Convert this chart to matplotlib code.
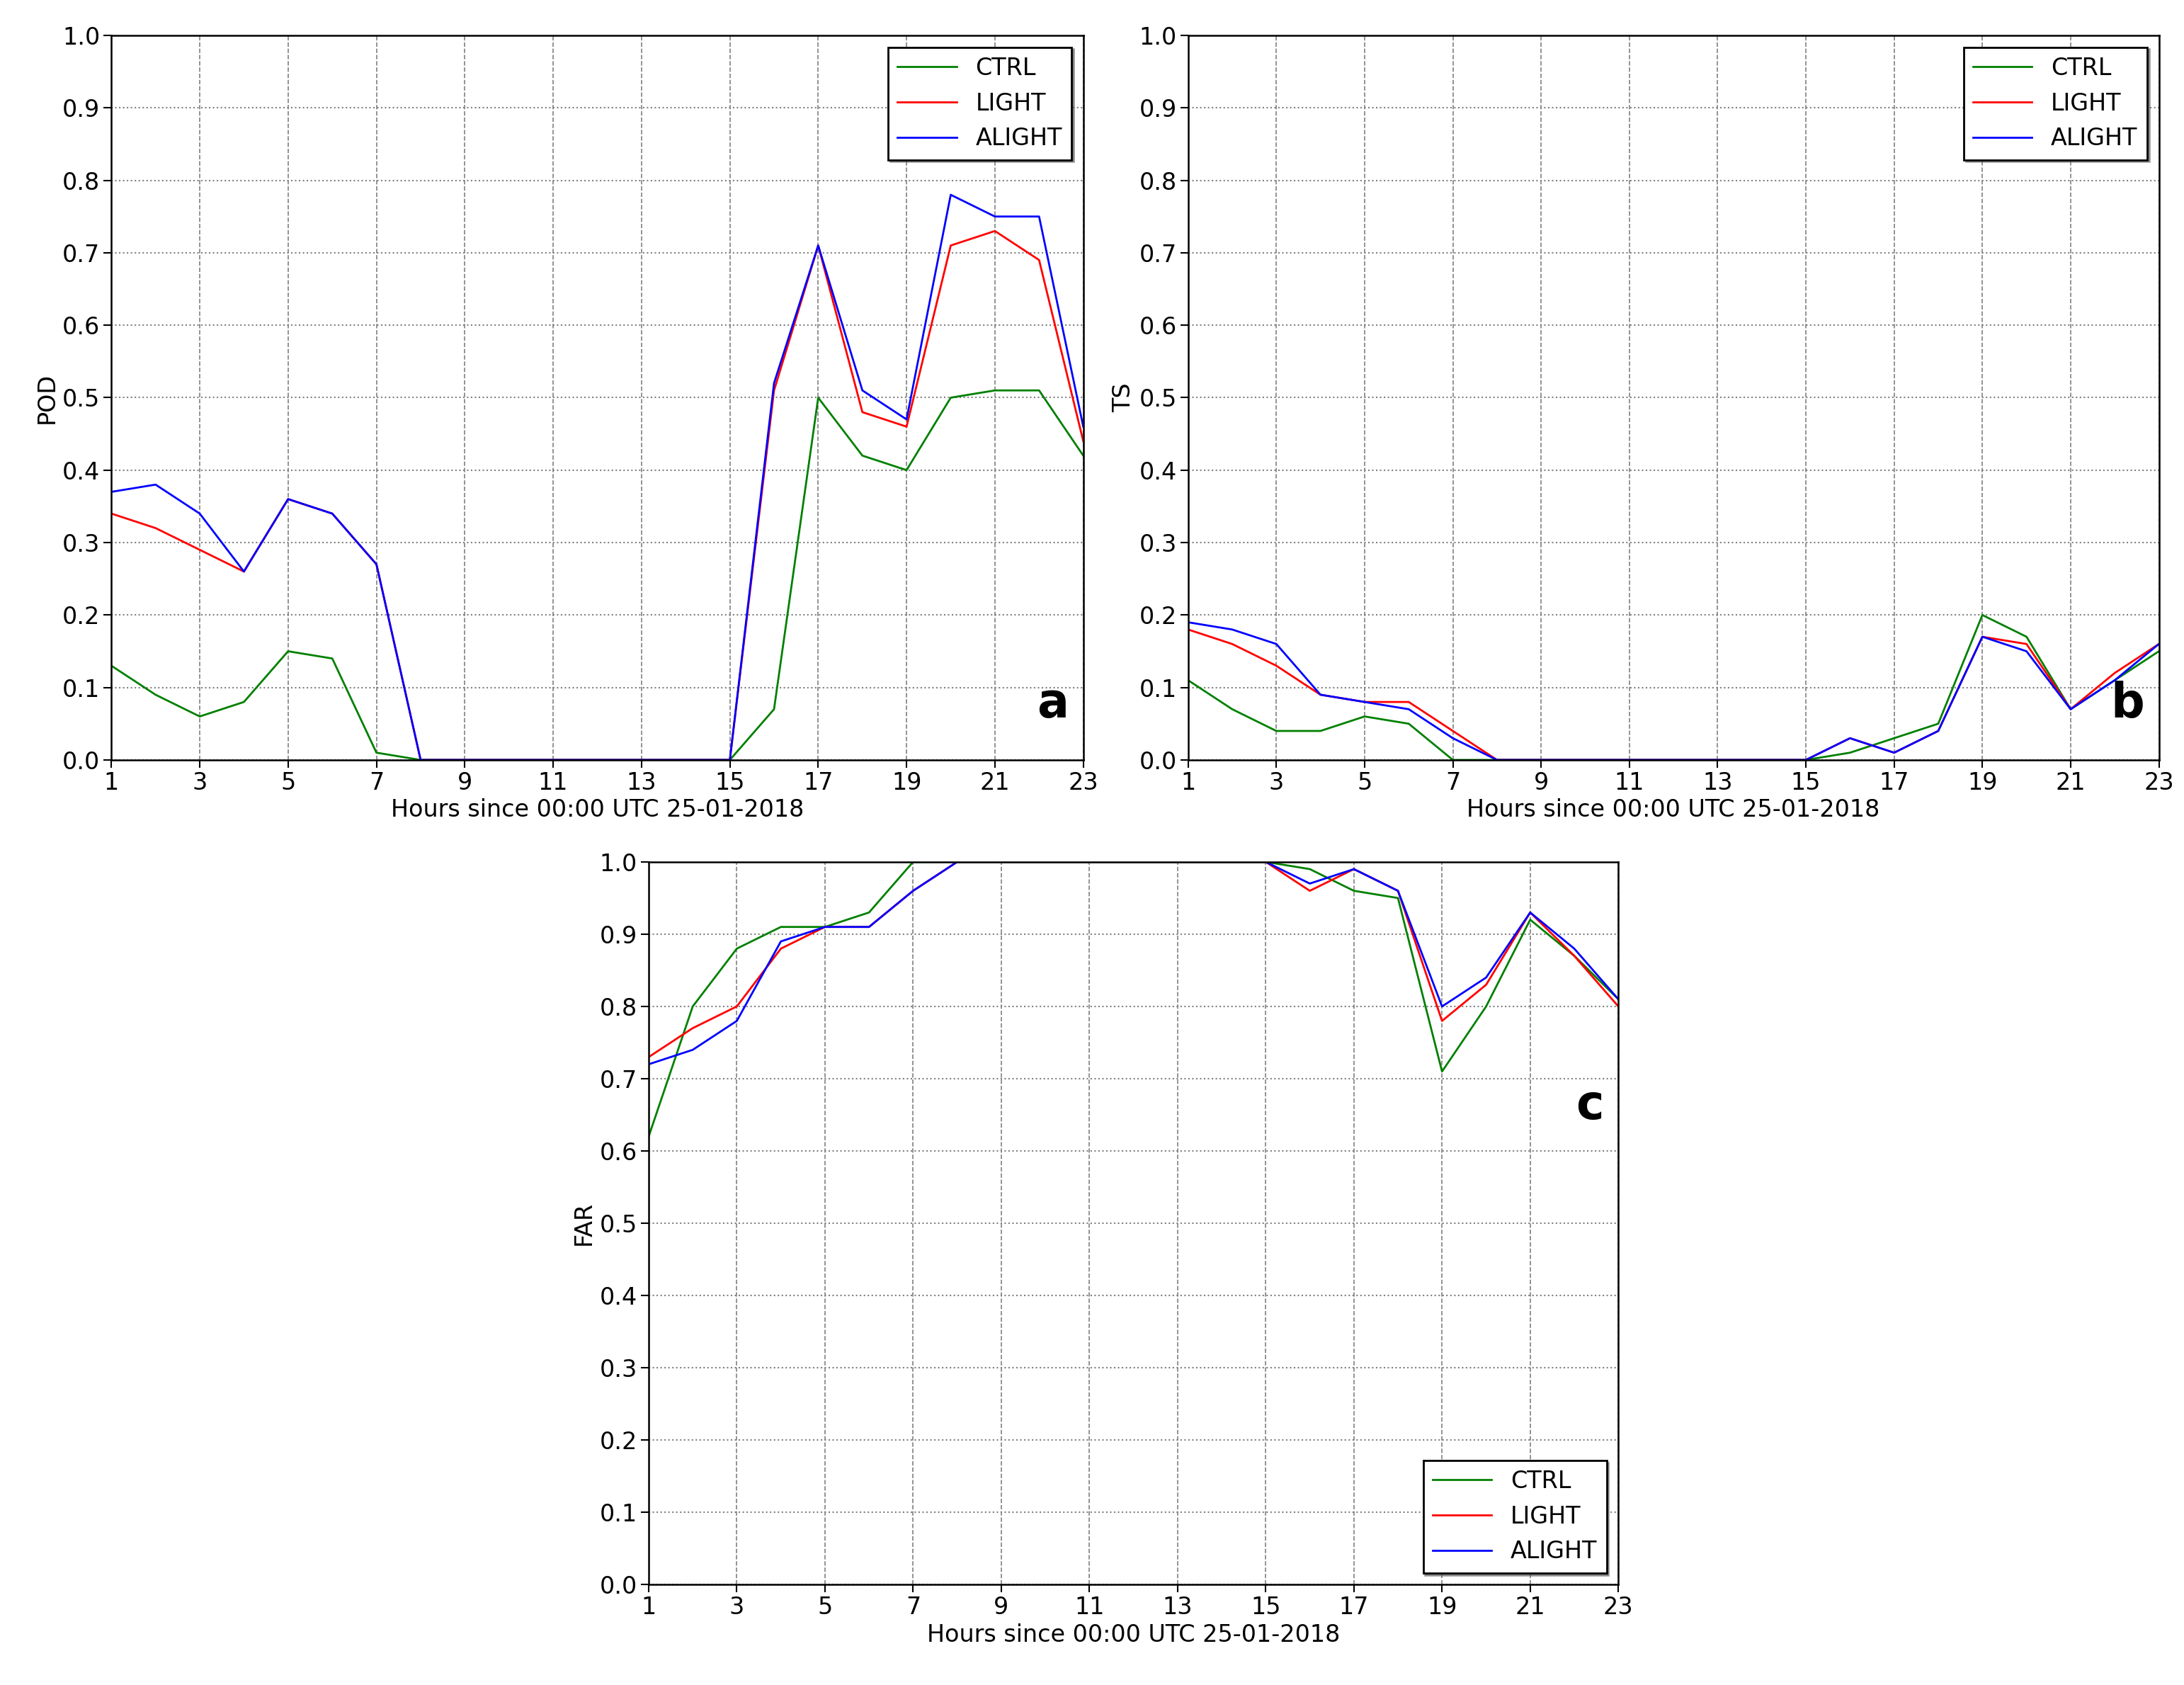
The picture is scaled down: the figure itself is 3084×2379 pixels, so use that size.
import matplotlib
matplotlib.use("Agg")
import matplotlib.pyplot as plt
import numpy as np

hours = list(range(1, 24))
z = [0]*7
pod_ctrl = [.13,.09,.06,.08,.15,.14,.01,0]+z+[.07,.50,.42,.40,.50,.51,.51,.42]
pod_light = [.34,.32,.29,.26,.36,.34,.27,0]+z+[.51,.71,.48,.46,.71,.73,.69,.44]
pod_alight = [.37,.38,.34,.26,.36,.34,.27,0]+z+[.52,.71,.51,.47,.78,.75,.75,.46]
ts_ctrl = [.11,.07,.04,.04,.06,.05,0,0]+z+[.01,.03,.05,.20,.17,.07,.11,.15]
ts_light = [.18,.16,.13,.09,.08,.08,.04,0]+z+[.03,.01,.04,.17,.16,.07,.12,.16]
ts_alight = [.19,.18,.16,.09,.08,.07,.03,0]+z+[.03,.01,.04,.17,.15,.07,.11,.16]
o = [1.0]*7
far_ctrl = [.62,.80,.88,.91,.91,.93,1.0,1.0]+o+[.99,.96,.95,.71,.80,.92,.87,.81]
far_light = [.73,.77,.80,.88,.91,.91,.96,1.0]+o+[.96,.99,.96,.78,.83,.93,.87,.80]
far_alight = [.72,.74,.78,.89,.91,.91,.96,1.0]+o+[.97,.99,.96,.80,.84,.93,.88,.81]

fig = plt.figure(figsize=(30.84, 23.79), dpi=100)
specs = [
    ([0.051, 0.549, 0.445, 0.430], pod_ctrl, pod_light, pod_alight, "POD", "a", "upper right"),
    ([0.544, 0.549, 0.4445, 0.430], ts_ctrl, ts_light, ts_alight, "TS", "b", "upper right"),
    ([0.297, 0.0595, 0.444, 0.429], far_ctrl, far_light, far_alight, "FAR", "c", "lower right"),
]
for rect, c, l, a, yl, letter, loc in specs:
    ax = fig.add_axes(rect)
    ax.plot(hours, c, color="green", lw=2, label="CTRL")
    ax.plot(hours, l, color="red", lw=2, label="LIGHT")
    ax.plot(hours, a, color="blue", lw=2, label="ALIGHT")
    ax.set_xlim(1, 23)
    ax.set_ylim(0, 1)
    ax.set_xticks(range(1, 24, 2))
    ax.set_yticks(np.arange(0, 1.01, 0.1))
    ax.yaxis.set_major_formatter(matplotlib.ticker.FormatStrFormatter("%.1f"))
    ax.xaxis.grid(True, linestyle="--", color="gray", lw=1.2)
    ax.yaxis.grid(True, linestyle=":", color="gray", lw=1.5)
    ax.tick_params(labelsize=24, length=8, width=1.5)
    for s in ax.spines.values():
        s.set_linewidth(1.8)
    ax.set_xlabel("Hours since 00:00 UTC 25-01-2018", fontsize=24)
    ax.set_ylabel(yl, fontsize=24)
    leg = ax.legend(loc=loc, fontsize=24, shadow=True, fancybox=False, framealpha=1, edgecolor="black", handlelength=2.5)
    leg.get_frame().set_linewidth(2)
    ax.text(0.985, 0.045 if letter != "c" else 0.63, letter, transform=ax.transAxes, ha="right", va="bottom", fontsize=48, fontweight="bold")

fig.savefig("out.png", dpi=100)
